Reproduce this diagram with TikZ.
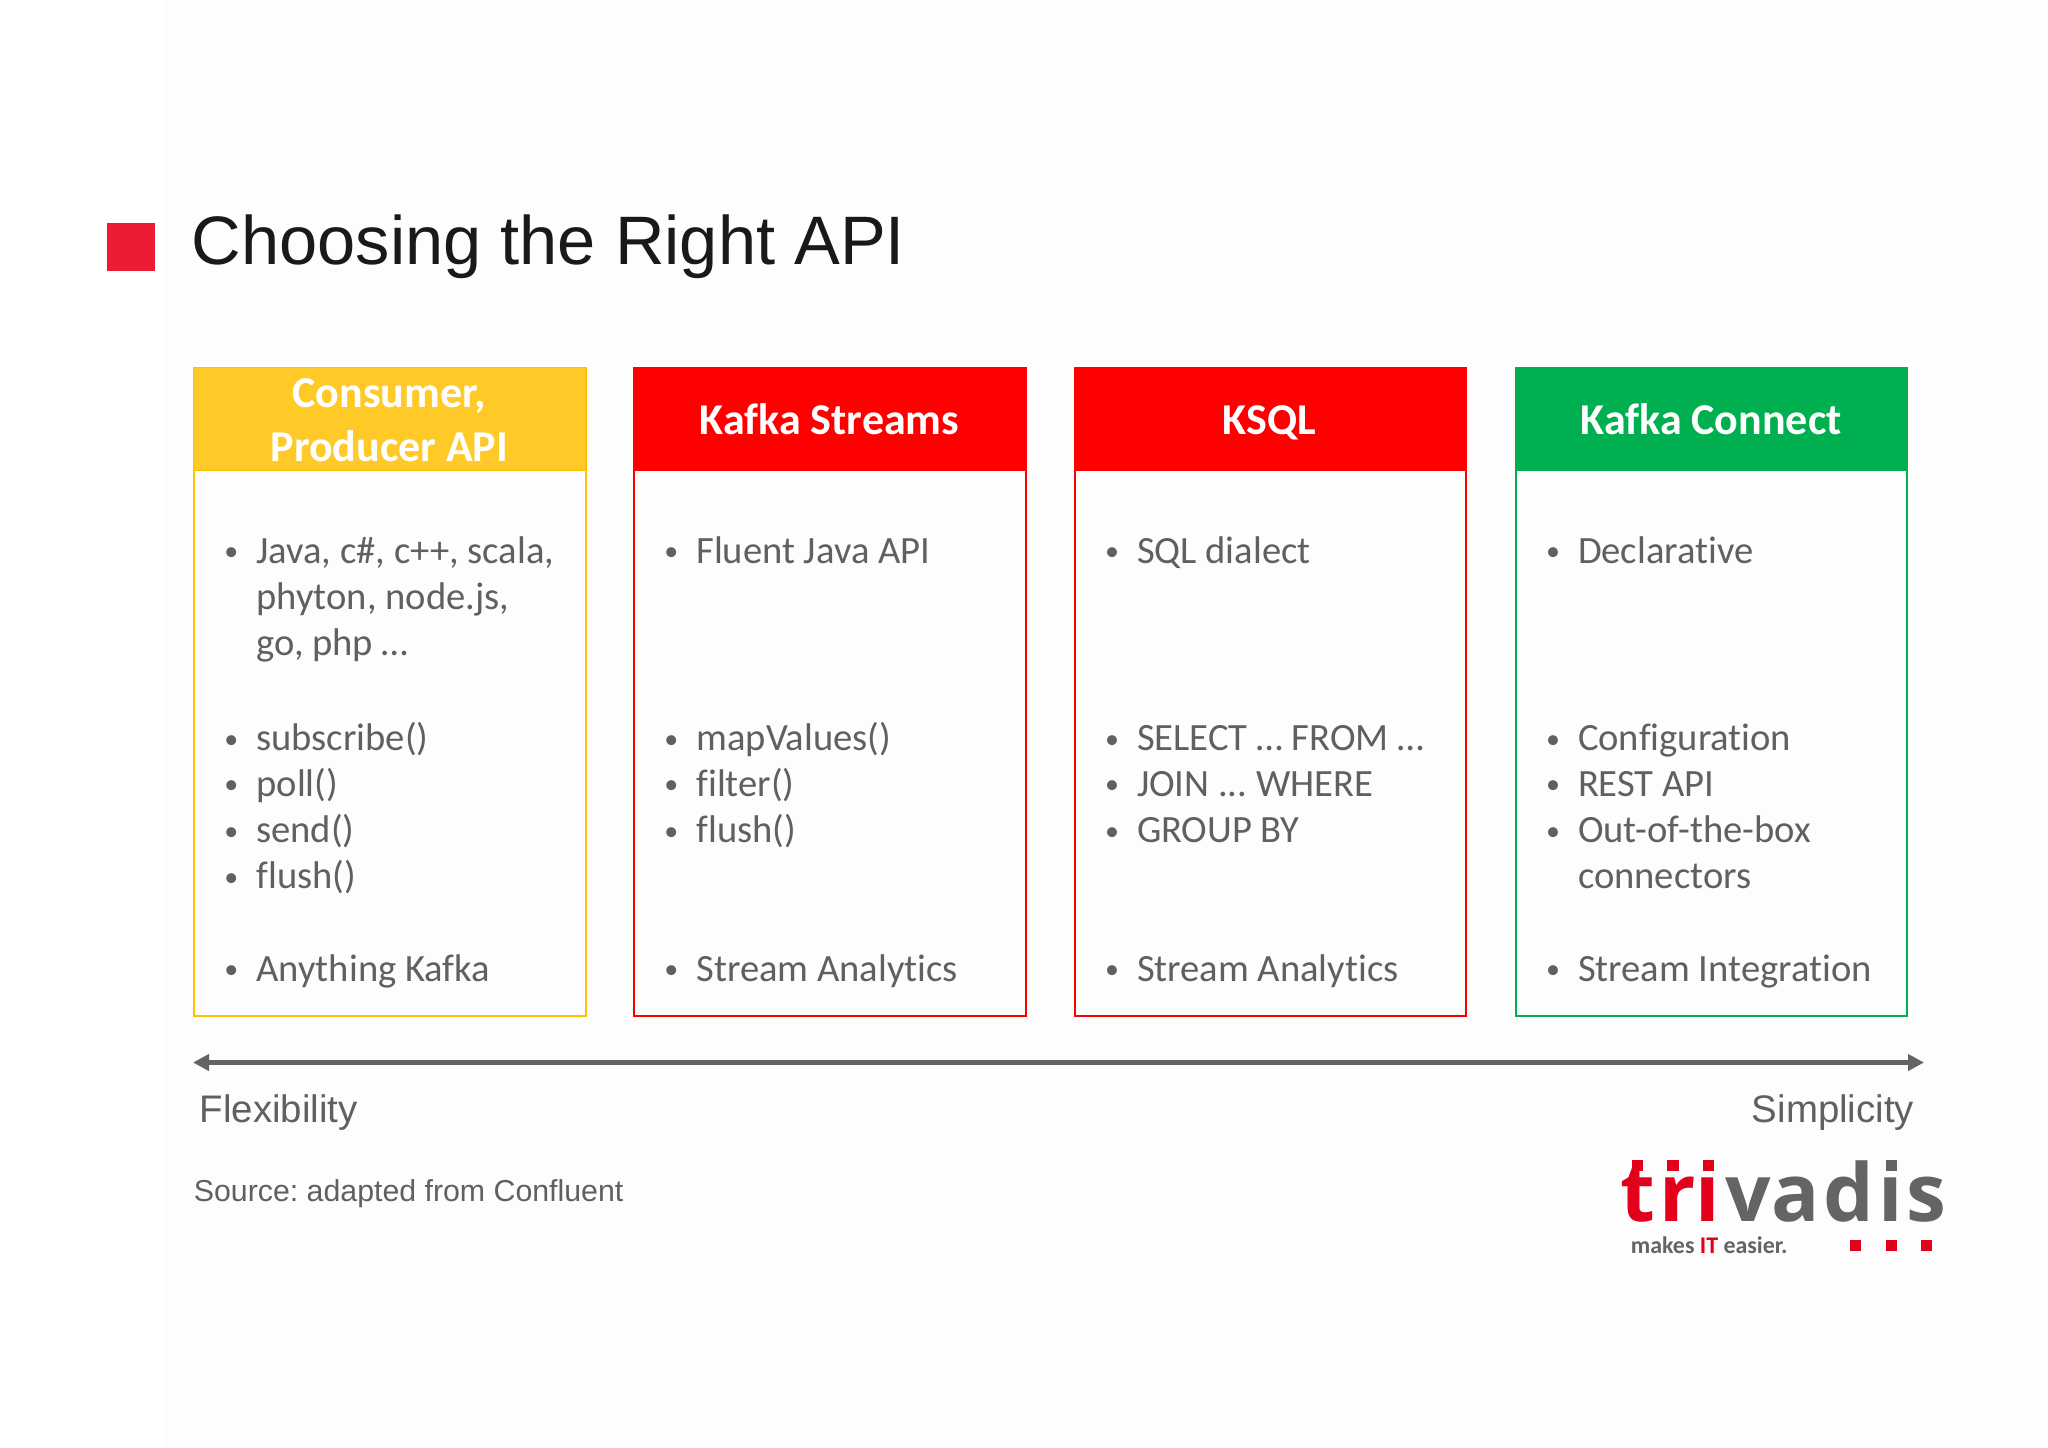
\documentclass[tikz,border=0pt]{standalone}
\usepackage{fontspec}
\setmainfont{Carlito}[Ligatures=NoCommon]
\newfontfamily\arialfont{Liberation Sans}
\newfontfamily\logofont{Open Sans}
\usetikzlibrary{arrows.meta}
\definecolor{txtgray}{HTML}{5F6062}
\definecolor{apiyellow}{HTML}{FFC000}
\definecolor{apiyellowfill}{HTML}{FFCA28}
\definecolor{apired}{HTML}{FF0000}
\definecolor{apigreen}{HTML}{00B050}
\definecolor{logored}{HTML}{E2001A}
\definecolor{logogray}{HTML}{636466}
\definecolor{squarered}{HTML}{ED1C34}
\definecolor{paper}{HTML}{FDFDFD}
\newcommand{\bul}{\llap{\raisebox{1.2pt}{\fontsize{14}{14}\selectfont\textbullet}\hspace{9pt}}}
\tikzset{
  head/.style={anchor=north west, minimum width=195.7pt, minimum height=51.5pt, inner sep=0pt,
    draw=#1, fill=#1, text=white, align=center, font=\fontsize{22}{27}\selectfont\bfseries},
  headone/.style={head=#1, text height=16pt, text depth=0pt},
  body/.style={anchor=north west, minimum width=195.7pt, minimum height=324pt, inner sep=0pt,
    draw=#1, line width=1pt},
  itm/.style={anchor=base west, inner sep=0pt, text=txtgray, font=\fontsize{19.3}{23}\selectfont},
  axislbl/.style={inner sep=0pt, text=txtgray, font=\fontsize{19.2}{24}\selectfont\arialfont},
  dot/.style={fill=#1, inner sep=0pt, minimum size=5.6pt},
  logoletter/.style={anchor=base, inner sep=0pt, text=#1, font=\fontsize{40}{44}\selectfont\logofont\bfseries},
}
\begin{document}
\begin{tikzpicture}[x=0.5pt, y=-0.5pt]
  \useasboundingbox (0,0) rectangle (2048,1447);
  \fill[white] (0,0) rectangle (2048,1447);
  \fill[paper] (165,0) rectangle (2048,1447);

  % title
  \node[fill=squarered, inner sep=0pt, minimum size=23.7pt] (mark) at (130.8,247) {};
  \node[anchor=base west, inner sep=0pt, text=black!90, font=\fontsize{34.3}{40}\selectfont\arialfont] (title) at (191.5,264) {Choosing the Right API};

  % columns
  \node[body=apiyellow] (bodyA) at (193.3,367) {};
  \node[body=apired] (bodyB) at (633.4,367) {};
  \node[body=apired] (bodyC) at (1073.5,367) {};
  \node[body=apigreen] (bodyD) at (1515,367) {};
  \node[head=apiyellow, fill=apiyellowfill] (headA) at (193.3,367) {\rule{0pt}{16pt}Consumer,\\Producer API};
  \node[headone=apired] (headB) at (633.4,367) {Kafka Streams};
  \node[headone=apired] (headC) at (1073.5,367) {KSQL};
  \node[headone=apigreen] (headD) at (1515,367) {Kafka Connect};

  % first column
  \node[itm] (a1) at (256,563.2) {\bul Java, c\#, c++, scala,};
  \node[itm] (a2) at (256,609.6) {phyton, node.js,};
  \node[itm] (a3) at (256,655.8) {go, php \dots};
  \node[itm] (a4) at (256,750.4) {\bul subscribe()};
  \node[itm] (a5) at (256,796) {\bul poll()};
  \node[itm] (a6) at (256,842.8) {\bul send()};
  \node[itm] (a7) at (256,888.8) {\bul flush()};
  \node[itm] (a8) at (256,981) {\bul Anything Kafka};

  % second column
  \node[itm] (b1) at (696,563.2) {\bul Fluent Java API};
  \node[itm] (b2) at (696,750.4) {\bul mapValues()};
  \node[itm] (b3) at (696,796) {\bul filter()};
  \node[itm] (b4) at (696,842.8) {\bul flush()};
  \node[itm] (b5) at (696,981) {\bul Stream Analytics};

  % third column
  \node[itm] (c1) at (1136.6,563.2) {\bul SQL dialect};
  \node[itm] (c2) at (1136.6,750.4) {\bul SELECT \dots{} FROM \dots};
  \node[itm] (c3) at (1136.6,796) {\bul JOIN ...\ WHERE};
  \node[itm] (c4) at (1136.6,842.8) {\bul GROUP BY};
  \node[itm] (c5) at (1136.6,981) {\bul Stream Analytics};

  % fourth column
  \node[itm] (d1) at (1577.6,563.2) {\bul Declarative};
  \node[itm] (d2) at (1577.6,750.4) {\bul Configuration};
  \node[itm] (d3) at (1577.6,796) {\bul REST API};
  \node[itm] (d4) at (1577.6,842.8) {\bul Out-of-the-box};
  \node[itm] (d5) at (1577.6,888.8) {connectors};
  \node[itm] (d6) at (1577.6,981) {\bul Stream Integration};

  % axis
  \coordinate (axisL) at (193,1062.5);
  \coordinate (axisR) at (1924,1062.5);
  \draw[{Triangle[length=8pt,width=8pt]}-{Triangle[length=8pt,width=8pt]}, logogray, line width=2.4pt] (axisL) -- (axisR);
  \node[axislbl, anchor=base west] (flex) at (199.5,1122) {Flexibility};
  \node[axislbl, anchor=base east] (simple) at (1914.5,1122) {Simplicity};
  \node[axislbl, anchor=base west, font=\fontsize{15.15}{18}\selectfont\arialfont] (source) at (193.5,1201) {Source:\ adapted from Confluent};

  % logo
  \node[logoletter=logored] (lgT) at (1638,1221.7) {t};
  \node[logoletter=logored] (lgR) at (1678,1221.7) {r};
  \node[logoletter=logored] (lgI) at (1708,1221.7) {\i};
  \node[logoletter=logogray] (lgV) at (1748,1221.7) {v};
  \node[logoletter=logogray] (lgA) at (1795.5,1221.7) {a};
  \node[logoletter=logogray] (lgD) at (1848.6,1221.7) {d};
  \node[logoletter=logogray] (lgJ) at (1891,1221.7) {\i};
  \node[logoletter=logogray] (lgS) at (1926,1221.7) {s};
  \node[dot=logored] (dotT) at (1637.4,1165.5) {};
  \node[dot=logored] (dotR) at (1673,1165.5) {};
  \node[dot=logored] (dotI) at (1708.4,1165.5) {};
  \node[dot=logogray] (dotJ) at (1891.2,1165.5) {};
  \node[anchor=base west, inner sep=0pt, text=logogray, font=\fontsize{11.95}{14}\selectfont\bfseries] (slogan) at (1630.5,1253) {makes \textcolor{logored}{IT} easier.};
  \node[dot=logored] (sq1) at (1855.8,1245.4) {};
  \node[dot=logored] (sq2) at (1891.2,1245.4) {};
  \node[dot=logored] (sq3) at (1926.5,1245.4) {};
\end{tikzpicture}
\end{document}
